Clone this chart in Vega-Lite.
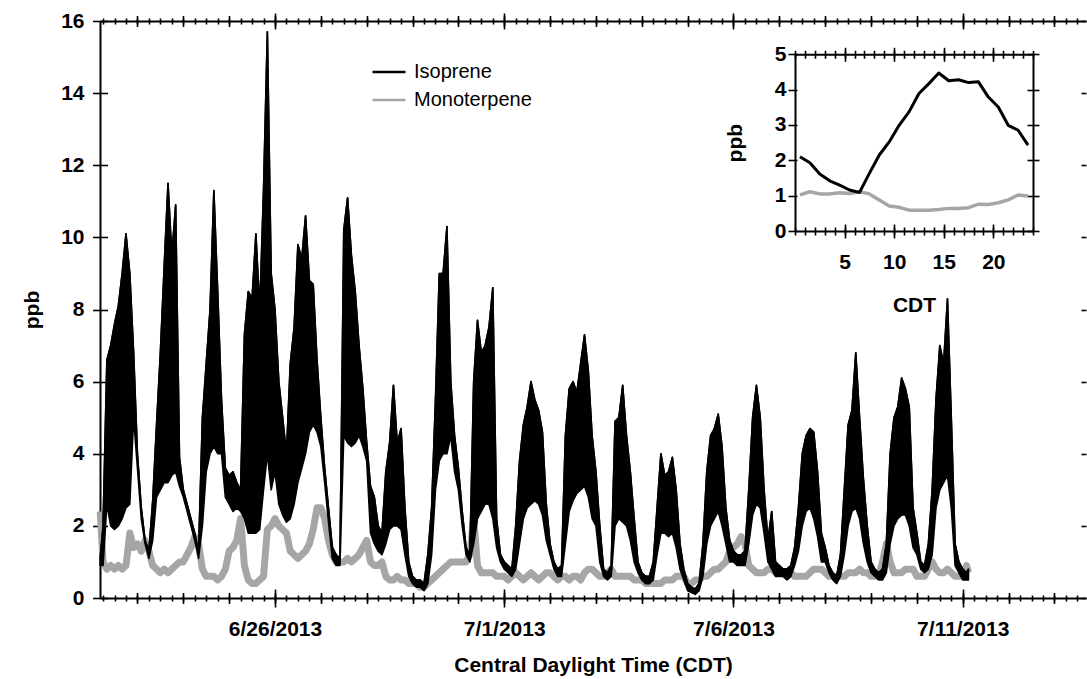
{
  "width": 986,
  "height": 577,
  "autosize": {"type": "none"},
  "padding": {"left": 100, "top": 21, "right": 1, "bottom": 81},
  "config": {
    "view": {"stroke": null},
    "axis": {"grid": false, "domainColor": "black", "domainWidth": 2, "tickColor": "black", "tickWidth": 1.6, "labelFont": "Liberation Sans", "labelFontWeight": "bold", "labelFontSize": 21, "labelColor": "black", "titleFont": "Liberation Sans", "titleFontWeight": "bold", "titleFontSize": 21, "titleColor": "black"}
  },
  "datasets": {
    "main": [
      {"t":"2013-06-22T04:30","lo":0.9,"hi":1.1,"m":2.4},
      {"t":"2013-06-22T06:00","lo":0.9,"hi":2.0,"m":1.0},
      {"t":"2013-06-22T08:00","lo":2.6,"hi":6.6,"m":0.8},
      {"t":"2013-06-22T10:00","lo":2.0,"hi":7.0,"m":0.9},
      {"t":"2013-06-22T12:00","lo":1.9,"hi":7.6,"m":0.8},
      {"t":"2013-06-22T14:00","lo":2.0,"hi":8.1,"m":0.9},
      {"t":"2013-06-22T16:00","lo":2.2,"hi":9.0,"m":0.8},
      {"t":"2013-06-22T18:00","lo":2.5,"hi":10.1,"m":0.9},
      {"t":"2013-06-22T20:00","lo":2.6,"hi":9.0,"m":1.8},
      {"t":"2013-06-22T22:00","lo":5.0,"hi":6.8,"m":1.4},
      {"t":"2013-06-23T00:00","lo":3.6,"hi":4.0,"m":1.5},
      {"t":"2013-06-23T02:00","lo":2.2,"hi":2.5,"m":1.3},
      {"t":"2013-06-23T04:00","lo":1.5,"hi":1.6,"m":1.6},
      {"t":"2013-06-23T06:00","lo":1.1,"hi":1.3,"m":1.3},
      {"t":"2013-06-23T08:00","lo":1.6,"hi":2.7,"m":0.9},
      {"t":"2013-06-23T10:00","lo":2.8,"hi":4.8,"m":0.8},
      {"t":"2013-06-23T12:00","lo":3.0,"hi":6.8,"m":0.7},
      {"t":"2013-06-23T14:00","lo":3.2,"hi":9.2,"m":0.8},
      {"t":"2013-06-23T16:00","lo":3.2,"hi":11.5,"m":0.7},
      {"t":"2013-06-23T18:00","lo":3.4,"hi":9.5,"m":0.8},
      {"t":"2013-06-23T20:00","lo":3.5,"hi":10.9,"m":0.9},
      {"t":"2013-06-23T22:00","lo":3.1,"hi":3.9,"m":1.0},
      {"t":"2013-06-24T00:00","lo":2.8,"hi":3.0,"m":1.0},
      {"t":"2013-06-24T02:00","lo":2.4,"hi":2.6,"m":1.2},
      {"t":"2013-06-24T04:00","lo":2.0,"hi":2.2,"m":1.4},
      {"t":"2013-06-24T06:00","lo":1.6,"hi":1.8,"m":1.7},
      {"t":"2013-06-24T08:00","lo":1.1,"hi":1.3,"m":1.5},
      {"t":"2013-06-24T10:00","lo":2.0,"hi":5.0,"m":0.8},
      {"t":"2013-06-24T12:00","lo":3.5,"hi":6.5,"m":0.6},
      {"t":"2013-06-24T14:00","lo":4.0,"hi":8.0,"m":0.6},
      {"t":"2013-06-24T16:00","lo":4.2,"hi":11.3,"m":0.6},
      {"t":"2013-06-24T18:00","lo":4.0,"hi":8.5,"m":0.5},
      {"t":"2013-06-24T20:00","lo":4.0,"hi":5.5,"m":0.6},
      {"t":"2013-06-24T22:00","lo":2.8,"hi":3.6,"m":0.8},
      {"t":"2013-06-25T00:00","lo":2.6,"hi":3.4,"m":1.3},
      {"t":"2013-06-25T02:00","lo":2.4,"hi":3.5,"m":1.4},
      {"t":"2013-06-25T04:00","lo":2.5,"hi":3.2,"m":1.6},
      {"t":"2013-06-25T06:00","lo":2.4,"hi":3.0,"m":2.2},
      {"t":"2013-06-25T08:00","lo":2.2,"hi":7.3,"m":0.9},
      {"t":"2013-06-25T10:00","lo":1.8,"hi":8.5,"m":0.5},
      {"t":"2013-06-25T12:00","lo":1.8,"hi":8.3,"m":0.4},
      {"t":"2013-06-25T14:00","lo":1.8,"hi":10.1,"m":0.4},
      {"t":"2013-06-25T16:00","lo":1.9,"hi":8.0,"m":0.5},
      {"t":"2013-06-25T18:00","lo":3.0,"hi":11.3,"m":0.6},
      {"t":"2013-06-25T20:00","lo":4.0,"hi":15.7,"m":1.9},
      {"t":"2013-06-25T22:00","lo":3.0,"hi":9.0,"m":2.0},
      {"t":"2013-06-26T00:00","lo":3.5,"hi":8.0,"m":2.2},
      {"t":"2013-06-26T02:00","lo":2.6,"hi":6.0,"m":2.0},
      {"t":"2013-06-26T04:00","lo":2.3,"hi":5.0,"m":1.9},
      {"t":"2013-06-26T06:00","lo":2.1,"hi":4.0,"m":1.8},
      {"t":"2013-06-26T08:00","lo":2.2,"hi":6.5,"m":1.3},
      {"t":"2013-06-26T10:00","lo":2.6,"hi":7.5,"m":1.2},
      {"t":"2013-06-26T12:00","lo":3.2,"hi":9.8,"m":1.1},
      {"t":"2013-06-26T14:00","lo":3.6,"hi":9.4,"m":1.2},
      {"t":"2013-06-26T16:00","lo":4.0,"hi":10.6,"m":1.3},
      {"t":"2013-06-26T18:00","lo":4.6,"hi":8.8,"m":1.5},
      {"t":"2013-06-26T20:00","lo":4.8,"hi":8.7,"m":1.9},
      {"t":"2013-06-26T22:00","lo":4.6,"hi":6.6,"m":2.5},
      {"t":"2013-06-27T00:00","lo":4.2,"hi":5.0,"m":2.5},
      {"t":"2013-06-27T02:00","lo":3.2,"hi":3.6,"m":2.2},
      {"t":"2013-06-27T04:00","lo":2.1,"hi":2.5,"m":1.6},
      {"t":"2013-06-27T06:00","lo":1.1,"hi":1.4,"m":1.2},
      {"t":"2013-06-27T08:00","lo":0.9,"hi":1.2,"m":1.0},
      {"t":"2013-06-27T10:00","lo":0.9,"hi":1.1,"m":1.0},
      {"t":"2013-06-27T12:00","lo":4.5,"hi":10.2,"m":1.0},
      {"t":"2013-06-27T14:00","lo":4.3,"hi":11.1,"m":1.1},
      {"t":"2013-06-27T16:00","lo":4.2,"hi":9.5,"m":1.0},
      {"t":"2013-06-27T18:00","lo":4.3,"hi":8.5,"m":1.1},
      {"t":"2013-06-27T20:00","lo":4.5,"hi":7.0,"m":1.2},
      {"t":"2013-06-27T22:00","lo":4.2,"hi":5.8,"m":1.4},
      {"t":"2013-06-28T00:00","lo":3.8,"hi":4.3,"m":1.6},
      {"t":"2013-06-28T02:00","lo":1.8,"hi":3.1,"m":1.0},
      {"t":"2013-06-28T04:00","lo":1.5,"hi":2.8,"m":0.9},
      {"t":"2013-06-28T06:00","lo":1.3,"hi":2.0,"m":0.9},
      {"t":"2013-06-28T08:00","lo":1.2,"hi":1.8,"m":1.0},
      {"t":"2013-06-28T10:00","lo":1.5,"hi":3.5,"m":0.6},
      {"t":"2013-06-28T12:00","lo":1.9,"hi":4.3,"m":0.5},
      {"t":"2013-06-28T14:00","lo":2.0,"hi":5.9,"m":0.5},
      {"t":"2013-06-28T16:00","lo":2.0,"hi":4.3,"m":0.6},
      {"t":"2013-06-28T18:00","lo":1.9,"hi":4.7,"m":0.5},
      {"t":"2013-06-28T20:00","lo":1.2,"hi":2.5,"m":0.5},
      {"t":"2013-06-28T22:00","lo":0.6,"hi":1.0,"m":0.4},
      {"t":"2013-06-29T00:00","lo":0.4,"hi":0.6,"m":0.4},
      {"t":"2013-06-29T02:00","lo":0.3,"hi":0.5,"m":0.4},
      {"t":"2013-06-29T04:00","lo":0.3,"hi":0.5,"m":0.3},
      {"t":"2013-06-29T06:00","lo":0.2,"hi":0.4,"m":0.3},
      {"t":"2013-06-29T08:00","lo":0.4,"hi":1.2,"m":0.4},
      {"t":"2013-06-29T10:00","lo":1.2,"hi":2.5,"m":0.5},
      {"t":"2013-06-29T12:00","lo":3.0,"hi":5.5,"m":0.6},
      {"t":"2013-06-29T14:00","lo":3.8,"hi":9.0,"m":0.7},
      {"t":"2013-06-29T16:00","lo":4.0,"hi":9.0,"m":0.8},
      {"t":"2013-06-29T18:00","lo":4.0,"hi":10.3,"m":0.9},
      {"t":"2013-06-29T20:00","lo":4.5,"hi":6.0,"m":1.0},
      {"t":"2013-06-29T22:00","lo":3.5,"hi":4.5,"m":1.0},
      {"t":"2013-06-30T00:00","lo":3.0,"hi":3.6,"m":1.0},
      {"t":"2013-06-30T02:00","lo":2.0,"hi":2.4,"m":1.0},
      {"t":"2013-06-30T04:00","lo":1.2,"hi":1.4,"m":1.0},
      {"t":"2013-06-30T06:00","lo":1.0,"hi":1.2,"m":1.2},
      {"t":"2013-06-30T08:00","lo":1.5,"hi":6.0,"m":2.2},
      {"t":"2013-06-30T10:00","lo":2.2,"hi":7.7,"m":0.9},
      {"t":"2013-06-30T12:00","lo":2.4,"hi":6.8,"m":0.7},
      {"t":"2013-06-30T14:00","lo":2.6,"hi":7.0,"m":0.7},
      {"t":"2013-06-30T16:00","lo":2.6,"hi":7.5,"m":0.7},
      {"t":"2013-06-30T18:00","lo":2.2,"hi":8.6,"m":0.7},
      {"t":"2013-06-30T20:00","lo":1.4,"hi":2.2,"m":0.6},
      {"t":"2013-06-30T22:00","lo":1.0,"hi":1.2,"m":0.6},
      {"t":"2013-07-01T00:00","lo":0.8,"hi":1.0,"m":0.6},
      {"t":"2013-07-01T02:00","lo":0.7,"hi":0.9,"m":0.5},
      {"t":"2013-07-01T04:00","lo":0.6,"hi":0.8,"m":0.6},
      {"t":"2013-07-01T06:00","lo":0.8,"hi":2.0,"m":0.7},
      {"t":"2013-07-01T08:00","lo":1.5,"hi":3.8,"m":0.6},
      {"t":"2013-07-01T10:00","lo":2.2,"hi":4.8,"m":0.5},
      {"t":"2013-07-01T12:00","lo":2.5,"hi":5.3,"m":0.6},
      {"t":"2013-07-01T14:00","lo":2.6,"hi":6.0,"m":0.7},
      {"t":"2013-07-01T16:00","lo":2.7,"hi":5.5,"m":0.6},
      {"t":"2013-07-01T18:00","lo":2.6,"hi":5.2,"m":0.5},
      {"t":"2013-07-01T20:00","lo":2.3,"hi":4.6,"m":0.6},
      {"t":"2013-07-01T22:00","lo":1.6,"hi":2.6,"m":0.7},
      {"t":"2013-07-02T00:00","lo":1.2,"hi":1.5,"m":0.7},
      {"t":"2013-07-02T02:00","lo":0.8,"hi":1.0,"m":0.6},
      {"t":"2013-07-02T04:00","lo":0.6,"hi":0.8,"m":0.5},
      {"t":"2013-07-02T06:00","lo":0.6,"hi":0.9,"m":0.6},
      {"t":"2013-07-02T08:00","lo":1.5,"hi":4.5,"m":0.6},
      {"t":"2013-07-02T10:00","lo":2.4,"hi":5.8,"m":0.5},
      {"t":"2013-07-02T12:00","lo":2.7,"hi":6.0,"m":0.6},
      {"t":"2013-07-02T14:00","lo":2.9,"hi":5.7,"m":0.6},
      {"t":"2013-07-02T16:00","lo":3.0,"hi":6.5,"m":0.5},
      {"t":"2013-07-02T18:00","lo":3.1,"hi":7.3,"m":0.7},
      {"t":"2013-07-02T20:00","lo":2.8,"hi":6.3,"m":0.8},
      {"t":"2013-07-02T22:00","lo":2.2,"hi":4.5,"m":0.8},
      {"t":"2013-07-03T00:00","lo":2.0,"hi":3.5,"m":0.7},
      {"t":"2013-07-03T02:00","lo":1.0,"hi":2.0,"m":0.6},
      {"t":"2013-07-03T04:00","lo":0.6,"hi":0.8,"m":0.6},
      {"t":"2013-07-03T06:00","lo":0.5,"hi":0.7,"m":0.7},
      {"t":"2013-07-03T08:00","lo":0.6,"hi":0.9,"m":0.8},
      {"t":"2013-07-03T10:00","lo":2.0,"hi":4.9,"m":0.6},
      {"t":"2013-07-03T12:00","lo":2.2,"hi":5.0,"m":0.6},
      {"t":"2013-07-03T14:00","lo":2.1,"hi":5.9,"m":0.6},
      {"t":"2013-07-03T16:00","lo":2.0,"hi":4.5,"m":0.6},
      {"t":"2013-07-03T18:00","lo":1.6,"hi":3.5,"m":0.6},
      {"t":"2013-07-03T20:00","lo":1.0,"hi":2.2,"m":0.5},
      {"t":"2013-07-03T22:00","lo":0.7,"hi":1.0,"m":0.5},
      {"t":"2013-07-04T00:00","lo":0.5,"hi":0.7,"m":0.5},
      {"t":"2013-07-04T02:00","lo":0.4,"hi":0.6,"m":0.4},
      {"t":"2013-07-04T04:00","lo":0.4,"hi":0.6,"m":0.4},
      {"t":"2013-07-04T06:00","lo":0.5,"hi":1.0,"m":0.4},
      {"t":"2013-07-04T08:00","lo":1.2,"hi":2.5,"m":0.4},
      {"t":"2013-07-04T10:00","lo":1.8,"hi":4.0,"m":0.4},
      {"t":"2013-07-04T12:00","lo":1.8,"hi":3.4,"m":0.5},
      {"t":"2013-07-04T14:00","lo":1.7,"hi":3.5,"m":0.5},
      {"t":"2013-07-04T16:00","lo":1.8,"hi":3.9,"m":0.5},
      {"t":"2013-07-04T18:00","lo":1.4,"hi":3.0,"m":0.6},
      {"t":"2013-07-04T20:00","lo":0.8,"hi":1.5,"m":0.6},
      {"t":"2013-07-04T22:00","lo":0.5,"hi":0.8,"m":0.6},
      {"t":"2013-07-05T00:00","lo":0.2,"hi":0.4,"m":0.4},
      {"t":"2013-07-05T02:00","lo":0.15,"hi":0.3,"m":0.4},
      {"t":"2013-07-05T04:00","lo":0.1,"hi":0.25,"m":0.5},
      {"t":"2013-07-05T06:00","lo":0.2,"hi":0.4,"m":0.5},
      {"t":"2013-07-05T08:00","lo":0.6,"hi":1.5,"m":0.6},
      {"t":"2013-07-05T10:00","lo":1.5,"hi":3.5,"m":0.6},
      {"t":"2013-07-05T12:00","lo":2.0,"hi":4.5,"m":0.7},
      {"t":"2013-07-05T14:00","lo":2.2,"hi":4.7,"m":0.8},
      {"t":"2013-07-05T16:00","lo":2.4,"hi":5.1,"m":0.8},
      {"t":"2013-07-05T18:00","lo":2.0,"hi":4.2,"m":0.9},
      {"t":"2013-07-05T20:00","lo":1.5,"hi":2.5,"m":1.0},
      {"t":"2013-07-05T22:00","lo":1.0,"hi":1.6,"m":1.3},
      {"t":"2013-07-06T00:00","lo":1.0,"hi":1.3,"m":1.4},
      {"t":"2013-07-06T02:00","lo":0.9,"hi":1.2,"m":1.5},
      {"t":"2013-07-06T04:00","lo":0.9,"hi":1.2,"m":1.7},
      {"t":"2013-07-06T06:00","lo":0.9,"hi":1.3,"m":1.5},
      {"t":"2013-07-06T08:00","lo":1.5,"hi":3.0,"m":0.9},
      {"t":"2013-07-06T10:00","lo":2.3,"hi":5.0,"m":0.8},
      {"t":"2013-07-06T12:00","lo":2.6,"hi":5.9,"m":0.7},
      {"t":"2013-07-06T14:00","lo":2.5,"hi":5.0,"m":0.7},
      {"t":"2013-07-06T16:00","lo":1.8,"hi":3.0,"m":0.7},
      {"t":"2013-07-06T18:00","lo":1.0,"hi":1.6,"m":0.8},
      {"t":"2013-07-06T20:00","lo":0.8,"hi":2.4,"m":0.8},
      {"t":"2013-07-06T22:00","lo":0.6,"hi":1.0,"m":0.7},
      {"t":"2013-07-07T00:00","lo":0.6,"hi":0.9,"m":0.7},
      {"t":"2013-07-07T02:00","lo":0.6,"hi":0.8,"m":0.7},
      {"t":"2013-07-07T04:00","lo":0.5,"hi":0.8,"m":0.6},
      {"t":"2013-07-07T06:00","lo":0.6,"hi":0.9,"m":0.7},
      {"t":"2013-07-07T08:00","lo":0.9,"hi":1.4,"m":0.6},
      {"t":"2013-07-07T10:00","lo":1.3,"hi":2.5,"m":0.6},
      {"t":"2013-07-07T12:00","lo":2.0,"hi":4.0,"m":0.6},
      {"t":"2013-07-07T14:00","lo":2.4,"hi":4.5,"m":0.6},
      {"t":"2013-07-07T16:00","lo":2.5,"hi":4.7,"m":0.7},
      {"t":"2013-07-07T18:00","lo":2.2,"hi":4.6,"m":0.8},
      {"t":"2013-07-07T20:00","lo":1.7,"hi":3.5,"m":0.8},
      {"t":"2013-07-07T22:00","lo":1.0,"hi":1.8,"m":0.8},
      {"t":"2013-07-08T00:00","lo":1.0,"hi":1.4,"m":0.7},
      {"t":"2013-07-08T02:00","lo":0.7,"hi":0.9,"m":0.6},
      {"t":"2013-07-08T04:00","lo":0.5,"hi":0.7,"m":0.6},
      {"t":"2013-07-08T06:00","lo":0.4,"hi":0.6,"m":0.6},
      {"t":"2013-07-08T08:00","lo":0.6,"hi":1.2,"m":0.6},
      {"t":"2013-07-08T10:00","lo":1.2,"hi":3.0,"m":0.6},
      {"t":"2013-07-08T12:00","lo":2.0,"hi":4.8,"m":0.7},
      {"t":"2013-07-08T14:00","lo":2.4,"hi":5.2,"m":0.7},
      {"t":"2013-07-08T16:00","lo":2.5,"hi":6.8,"m":0.7},
      {"t":"2013-07-08T18:00","lo":2.2,"hi":5.0,"m":0.8},
      {"t":"2013-07-08T20:00","lo":1.5,"hi":3.3,"m":0.7},
      {"t":"2013-07-08T22:00","lo":1.0,"hi":2.0,"m":0.7},
      {"t":"2013-07-09T00:00","lo":0.7,"hi":1.0,"m":0.6},
      {"t":"2013-07-09T02:00","lo":0.6,"hi":0.8,"m":0.6},
      {"t":"2013-07-09T04:00","lo":0.5,"hi":0.7,"m":0.6},
      {"t":"2013-07-09T06:00","lo":0.5,"hi":0.8,"m":1.0},
      {"t":"2013-07-09T08:00","lo":0.7,"hi":1.5,"m":1.5},
      {"t":"2013-07-09T10:00","lo":1.5,"hi":4.0,"m":1.0},
      {"t":"2013-07-09T12:00","lo":2.0,"hi":5.0,"m":0.7},
      {"t":"2013-07-09T14:00","lo":2.2,"hi":5.3,"m":0.7},
      {"t":"2013-07-09T16:00","lo":2.3,"hi":6.1,"m":0.7},
      {"t":"2013-07-09T18:00","lo":2.3,"hi":5.8,"m":0.8},
      {"t":"2013-07-09T20:00","lo":2.0,"hi":5.3,"m":0.8},
      {"t":"2013-07-09T22:00","lo":1.4,"hi":2.5,"m":0.8},
      {"t":"2013-07-10T00:00","lo":1.2,"hi":1.8,"m":0.6},
      {"t":"2013-07-10T02:00","lo":0.8,"hi":1.0,"m":0.6},
      {"t":"2013-07-10T04:00","lo":0.7,"hi":0.9,"m":0.6},
      {"t":"2013-07-10T06:00","lo":0.8,"hi":1.5,"m":0.8},
      {"t":"2013-07-10T08:00","lo":1.2,"hi":3.0,"m":1.0},
      {"t":"2013-07-10T10:00","lo":2.5,"hi":5.5,"m":0.8},
      {"t":"2013-07-10T12:00","lo":3.0,"hi":7.0,"m":0.7},
      {"t":"2013-07-10T14:00","lo":3.2,"hi":6.5,"m":0.7},
      {"t":"2013-07-10T16:00","lo":3.4,"hi":8.3,"m":0.8},
      {"t":"2013-07-10T18:00","lo":2.5,"hi":5.0,"m":0.7},
      {"t":"2013-07-10T20:00","lo":0.9,"hi":1.5,"m":0.6},
      {"t":"2013-07-10T22:00","lo":0.7,"hi":1.0,"m":0.6},
      {"t":"2013-07-11T00:00","lo":0.5,"hi":0.8,"m":0.6},
      {"t":"2013-07-11T02:00","lo":0.5,"hi":0.7,"m":0.9},
      {"t":"2013-07-11T03:00","lo":0.5,"hi":0.8,"m":0.7}
    ],
    "inset": [
      {"h":0.5,"iso":2.10,"mono":1.02},
      {"h":1.5,"iso":1.93,"mono":1.11},
      {"h":2.5,"iso":1.61,"mono":1.05},
      {"h":3.5,"iso":1.42,"mono":1.05},
      {"h":4.5,"iso":1.30,"mono":1.08},
      {"h":5.5,"iso":1.16,"mono":1.06},
      {"h":6.5,"iso":1.09,"mono":1.11},
      {"h":7.5,"iso":1.63,"mono":1.05},
      {"h":8.5,"iso":2.15,"mono":0.88},
      {"h":9.5,"iso":2.52,"mono":0.71},
      {"h":10.5,"iso":2.99,"mono":0.67},
      {"h":11.5,"iso":3.37,"mono":0.59},
      {"h":12.5,"iso":3.89,"mono":0.59},
      {"h":13.5,"iso":4.17,"mono":0.59},
      {"h":14.5,"iso":4.47,"mono":0.61},
      {"h":15.5,"iso":4.25,"mono":0.64},
      {"h":16.5,"iso":4.28,"mono":0.64},
      {"h":17.5,"iso":4.20,"mono":0.66},
      {"h":18.5,"iso":4.22,"mono":0.76},
      {"h":19.5,"iso":3.79,"mono":0.75},
      {"h":20.5,"iso":3.51,"mono":0.80},
      {"h":21.5,"iso":2.99,"mono":0.88},
      {"h":22.5,"iso":2.85,"mono":1.02},
      {"h":23.5,"iso":2.43,"mono":0.99}
    ]
  },
  "data": {"name": "main"},
  "layer": [
    {
      "mark": {"type": "line", "strokeWidth": 7, "strokeJoin": "round"},
      "encoding": {
        "x": {"field": "t", "type": "temporal",
          "scale": {"domain": [{"year": 2013, "month": 6, "date": 22, "hours": 4, "minutes": 24}, {"year": 2013, "month": 7, "date": 13, "hours": 16, "minutes": 31}]},
          "axis": {"orient": "top", "tickCount": 86, "labels": false, "title": null, "tickSize": 3}},
        "y": {"field": "m", "type": "quantitative",
          "scale": {"domain": [0, 16], "nice": false},
          "axis": {"orient": "right", "offset": -5, "values": [0, 2, 4, 6, 8, 10, 12, 14, 16], "labels": false, "title": null, "domain": false, "tickSize": 5}},
        "color": {"datum": "Monoterpene",
          "scale": {"domain": ["Isoprene", "Monoterpene"], "range": ["#000000", "#a6a6a6"]},
          "legend": {"orient": "none", "legendX": 271, "legendY": 33, "title": null, "symbolType": "stroke", "symbolSize": 1089, "symbolStrokeWidth": 2.5, "labelFont": "Liberation Sans", "labelFontSize": 20, "labelColor": "black", "labelOffset": 7, "rowPadding": 0, "padding": 0}}
      }
    },
    {
      "mark": {"type": "area", "color": "black", "stroke": "black", "strokeWidth": 1.6, "strokeJoin": "round"},
      "encoding": {
        "x": {"field": "t", "type": "temporal",
          "scale": {"domain": [{"year": 2013, "month": 6, "date": 22, "hours": 4, "minutes": 24}, {"year": 2013, "month": 7, "date": 13, "hours": 16, "minutes": 31}]},
          "axis": {"orient": "bottom", "tickCount": 86, "tickSize": 3, "labelPadding": 17.5,
            "labelExpr": "hours(datum.value)==0 && date(datum.value)%5==1 ? timeFormat(datum.value, '%-m/%-d/%Y') : ''",
            "labelOverlap": false, "labelFlush": false,
            "title": "Central Daylight Time (CDT)", "titlePadding": 15}},
        "y": {"field": "hi", "type": "quantitative",
          "scale": {"domain": [0, 16], "nice": false},
          "axis": {"orient": "left", "values": [0, 2, 4, 6, 8, 10, 12, 14, 16], "tickSize": 7.5, "labelPadding": 8.5, "title": "ppb", "titlePadding": 18}},
        "y2": {"field": "lo"}
      }
    },
    {
      "mark": {"type": "line", "strokeWidth": 1.6, "strokeJoin": "round"},
      "encoding": {
        "x": {"field": "t", "type": "temporal",
          "scale": {"domain": [{"year": 2013, "month": 6, "date": 22, "hours": 4, "minutes": 24}, {"year": 2013, "month": 7, "date": 13, "hours": 16, "minutes": 31}]},
          "axis": null},
        "y": {"field": "hi", "type": "quantitative", "scale": {"domain": [0, 16], "nice": false}, "axis": null},
        "color": {"datum": "Isoprene"}
      }
    },
    {
      "mark": {"type": "line", "opacity": 0},
      "encoding": {
        "x": {"field": "t", "type": "temporal",
          "scale": {"domain": [{"year": 2013, "month": 6, "date": 22, "hours": 4, "minutes": 24}, {"year": 2013, "month": 7, "date": 13, "hours": 16, "minutes": 31}]},
          "axis": {"orient": "bottom", "tickCount": 86, "tickSize": -3, "labels": false, "domain": false, "title": null}},
        "y": {"field": "m", "type": "quantitative", "scale": {"domain": [0, 16], "nice": false},
          "axis": {"orient": "left", "values": [0, 2, 4, 6, 8, 10, 12, 14, 16], "tickSize": -7.5, "labels": false, "domain": false, "title": null}}
      }
    },
    {
      "mark": {"type": "line", "opacity": 0},
      "encoding": {
        "x": {"field": "t", "type": "temporal",
          "scale": {"domain": [{"year": 2013, "month": 6, "date": 22, "hours": 4, "minutes": 24}, {"year": 2013, "month": 7, "date": 13, "hours": 16, "minutes": 31}]},
          "axis": {"orient": "bottom", "tickCount": 22, "tickSize": 5.5, "labels": false, "domain": false, "title": null}},
        "y": {"field": "m", "type": "quantitative", "scale": {"domain": [0, 16], "nice": false}, "axis": null}
      }
    },
    {
      "mark": {"type": "line", "opacity": 0},
      "encoding": {
        "x": {"field": "t", "type": "temporal",
          "scale": {"domain": [{"year": 2013, "month": 6, "date": 22, "hours": 4, "minutes": 24}, {"year": 2013, "month": 7, "date": 13, "hours": 16, "minutes": 31}]},
          "axis": {"orient": "bottom", "tickCount": 22, "tickSize": -5.5, "labels": false, "domain": false, "title": null}},
        "y": {"field": "m", "type": "quantitative", "scale": {"domain": [0, 16], "nice": false}, "axis": null}
      }
    },
    {
      "mark": {"type": "line", "opacity": 0},
      "encoding": {
        "x": {"field": "t", "type": "temporal",
          "scale": {"domain": [{"year": 2013, "month": 6, "date": 22, "hours": 4, "minutes": 24}, {"year": 2013, "month": 7, "date": 13, "hours": 16, "minutes": 31}]},
          "axis": {"orient": "bottom", "values": [{"year": 2013, "month": 6, "date": 26}, {"year": 2013, "month": 7, "date": 1}, {"year": 2013, "month": 7, "date": 6}, {"year": 2013, "month": 7, "date": 11}], "tickSize": 9, "labels": false, "domain": false, "title": null}},
        "y": {"field": "m", "type": "quantitative", "scale": {"domain": [0, 16], "nice": false}, "axis": null}
      }
    },
    {
      "mark": {"type": "line", "opacity": 0},
      "encoding": {
        "x": {"field": "t", "type": "temporal",
          "scale": {"domain": [{"year": 2013, "month": 6, "date": 22, "hours": 4, "minutes": 24}, {"year": 2013, "month": 7, "date": 13, "hours": 16, "minutes": 31}]},
          "axis": {"orient": "bottom", "values": [{"year": 2013, "month": 6, "date": 26}, {"year": 2013, "month": 7, "date": 1}, {"year": 2013, "month": 7, "date": 6}, {"year": 2013, "month": 7, "date": 11}], "tickSize": -9, "labels": false, "domain": false, "title": null}},
        "y": {"field": "m", "type": "quantitative", "scale": {"domain": [0, 16], "nice": false}, "axis": null}
      }
    },
    {
      "mark": {"type": "line", "opacity": 0},
      "encoding": {
        "x": {"field": "t", "type": "temporal",
          "scale": {"domain": [{"year": 2013, "month": 6, "date": 22, "hours": 4, "minutes": 24}, {"year": 2013, "month": 7, "date": 13, "hours": 16, "minutes": 31}]},
          "axis": {"orient": "top", "tickCount": 86, "tickSize": -3, "labels": false, "domain": false, "title": null}},
        "y": {"field": "m", "type": "quantitative", "scale": {"domain": [0, 16], "nice": false}, "axis": null}
      }
    },
    {
      "mark": {"type": "line", "opacity": 0},
      "encoding": {
        "x": {"field": "t", "type": "temporal",
          "scale": {"domain": [{"year": 2013, "month": 6, "date": 22, "hours": 4, "minutes": 24}, {"year": 2013, "month": 7, "date": 13, "hours": 16, "minutes": 31}]},
          "axis": {"orient": "top", "tickCount": 22, "tickSize": 5.5, "labels": false, "domain": false, "title": null}},
        "y": {"field": "m", "type": "quantitative", "scale": {"domain": [0, 16], "nice": false}, "axis": null}
      }
    },
    {
      "mark": {"type": "line", "opacity": 0},
      "encoding": {
        "x": {"field": "t", "type": "temporal",
          "scale": {"domain": [{"year": 2013, "month": 6, "date": 22, "hours": 4, "minutes": 24}, {"year": 2013, "month": 7, "date": 13, "hours": 16, "minutes": 31}]},
          "axis": {"orient": "top", "tickCount": 22, "tickSize": -5.5, "labels": false, "domain": false, "title": null}},
        "y": {"field": "m", "type": "quantitative", "scale": {"domain": [0, 16], "nice": false}, "axis": null}
      }
    },
    {
      "mark": {"type": "line", "opacity": 0},
      "encoding": {
        "x": {"field": "t", "type": "temporal",
          "scale": {"domain": [{"year": 2013, "month": 6, "date": 22, "hours": 4, "minutes": 24}, {"year": 2013, "month": 7, "date": 13, "hours": 16, "minutes": 31}]},
          "axis": {"orient": "top", "values": [{"year": 2013, "month": 6, "date": 26}, {"year": 2013, "month": 7, "date": 1}, {"year": 2013, "month": 7, "date": 6}, {"year": 2013, "month": 7, "date": 11}], "tickSize": 8, "labels": false, "domain": false, "title": null}},
        "y": {"field": "m", "type": "quantitative", "scale": {"domain": [0, 16], "nice": false}, "axis": null}
      }
    },
    {
      "mark": {"type": "line", "opacity": 0},
      "encoding": {
        "x": {"field": "t", "type": "temporal",
          "scale": {"domain": [{"year": 2013, "month": 6, "date": 22, "hours": 4, "minutes": 24}, {"year": 2013, "month": 7, "date": 13, "hours": 16, "minutes": 31}]},
          "axis": {"orient": "top", "values": [{"year": 2013, "month": 6, "date": 26}, {"year": 2013, "month": 7, "date": 1}, {"year": 2013, "month": 7, "date": 6}, {"year": 2013, "month": 7, "date": 11}], "tickSize": -8, "labels": false, "domain": false, "title": null}},
        "y": {"field": "m", "type": "quantitative", "scale": {"domain": [0, 16], "nice": false}, "axis": null}
      }
    },
    {
      "data": {"name": "inset"},
      "mark": {"type": "line", "color": "#a6a6a6", "strokeWidth": 3.5, "strokeJoin": "round"},
      "encoding": {
        "x": {"field": "h", "type": "quantitative",
          "scale": {"domain": [0, 24], "range": [695, 933], "nice": false, "zero": false},
          "axis": {"orient": "top", "offset": -33.3, "values": [0,1,2,3,4,5,6,7,8,9,10,11,12,13,14,15,16,17,18,19,20,21,22,23,24], "labels": false, "title": null, "tickSize": 4}},
        "y": {"field": "mono", "type": "quantitative",
          "scale": {"domain": [0, 5], "range": [210, 33.3], "nice": false},
          "axis": {"orient": "right", "offset": -53, "values": [0, 1, 2, 3, 4, 5], "labels": false, "title": null, "tickSize": 6}}
      }
    },
    {
      "data": {"name": "inset"},
      "mark": {"type": "line", "color": "black", "strokeWidth": 3, "strokeJoin": "round"},
      "encoding": {
        "x": {"field": "h", "type": "quantitative",
          "scale": {"domain": [0, 24], "range": [695, 933], "nice": false, "zero": false},
          "axis": {"orient": "bottom", "offset": -367, "values": [0,1,2,3,4,5,6,7,8,9,10,11,12,13,14,15,16,17,18,19,20,21,22,23,24], "tickSize": 4, "labelPadding": 16,
            "labelExpr": "datum.value % 5 == 0 && datum.value > 0 ? datum.label : ''", "labelOverlap": false, "labelFlush": false,
            "title": "CDT", "titlePadding": 22}},
        "y": {"field": "iso", "type": "quantitative",
          "scale": {"domain": [0, 5], "range": [210, 33.3], "nice": false},
          "axis": {"orient": "left", "offset": -695, "values": [0, 1, 2, 3, 4, 5], "tickSize": 7, "labelPadding": 2, "title": "ppb", "titlePadding": 29}}
      }
    },
    {
      "data": {"name": "inset"},
      "mark": {"type": "line", "opacity": 0},
      "encoding": {
        "x": {"field": "h", "type": "quantitative",
          "scale": {"domain": [0, 24], "range": [695, 933], "nice": false, "zero": false},
          "axis": {"orient": "bottom", "offset": -367, "values": [0,1,2,3,4,5,6,7,8,9,10,11,12,13,14,15,16,17,18,19,20,21,22,23,24], "tickSize": -4, "labels": false, "domain": false, "title": null}},
        "y": {"field": "iso", "type": "quantitative",
          "scale": {"domain": [0, 5], "range": [210, 33.3], "nice": false},
          "axis": {"orient": "right", "offset": -53, "values": [0, 1, 2, 3, 4, 5], "tickSize": -6, "labels": false, "domain": false, "title": null}}
      }
    },
    {
      "data": {"name": "inset"},
      "mark": {"type": "line", "opacity": 0},
      "encoding": {
        "x": {"field": "h", "type": "quantitative",
          "scale": {"domain": [0, 24], "range": [695, 933], "nice": false, "zero": false},
          "axis": {"orient": "top", "offset": -33.3, "values": [0,1,2,3,4,5,6,7,8,9,10,11,12,13,14,15,16,17,18,19,20,21,22,23,24], "tickSize": -4, "labels": false, "domain": false, "title": null}},
        "y": {"field": "iso", "type": "quantitative",
          "scale": {"domain": [0, 5], "range": [210, 33.3], "nice": false},
          "axis": {"orient": "left", "offset": -695, "values": [0, 1, 2, 3, 4, 5], "tickSize": -2, "labels": false, "domain": false, "title": null}}
      }
    },
    {
      "data": {"name": "inset"},
      "mark": {"type": "line", "opacity": 0},
      "encoding": {
        "x": {"field": "h", "type": "quantitative",
          "scale": {"domain": [0, 24], "range": [695, 933], "nice": false, "zero": false},
          "axis": {"orient": "bottom", "offset": -367, "values": [5, 10, 15, 20], "tickSize": 7, "labels": false, "domain": false, "title": null}},
        "y": {"field": "iso", "type": "quantitative", "scale": {"domain": [0, 5], "range": [210, 33.3], "nice": false}, "axis": null}
      }
    },
    {
      "data": {"name": "inset"},
      "mark": {"type": "line", "opacity": 0},
      "encoding": {
        "x": {"field": "h", "type": "quantitative",
          "scale": {"domain": [0, 24], "range": [695, 933], "nice": false, "zero": false},
          "axis": {"orient": "bottom", "offset": -367, "values": [5, 10, 15, 20], "tickSize": -7, "labels": false, "domain": false, "title": null}},
        "y": {"field": "iso", "type": "quantitative", "scale": {"domain": [0, 5], "range": [210, 33.3], "nice": false}, "axis": null}
      }
    },
    {
      "data": {"name": "inset"},
      "mark": {"type": "line", "opacity": 0},
      "encoding": {
        "x": {"field": "h", "type": "quantitative",
          "scale": {"domain": [0, 24], "range": [695, 933], "nice": false, "zero": false},
          "axis": {"orient": "top", "offset": -33.3, "values": [5, 10, 15, 20], "tickSize": 7, "labels": false, "domain": false, "title": null}},
        "y": {"field": "iso", "type": "quantitative", "scale": {"domain": [0, 5], "range": [210, 33.3], "nice": false}, "axis": null}
      }
    },
    {
      "data": {"name": "inset"},
      "mark": {"type": "line", "opacity": 0},
      "encoding": {
        "x": {"field": "h", "type": "quantitative",
          "scale": {"domain": [0, 24], "range": [695, 933], "nice": false, "zero": false},
          "axis": {"orient": "top", "offset": -33.3, "values": [5, 10, 15, 20], "tickSize": -7, "labels": false, "domain": false, "title": null}},
        "y": {"field": "iso", "type": "quantitative", "scale": {"domain": [0, 5], "range": [210, 33.3], "nice": false}, "axis": null}
      }
    }
  ],
  "resolve": {"scale": {"x": "independent", "y": "independent"}}
}
